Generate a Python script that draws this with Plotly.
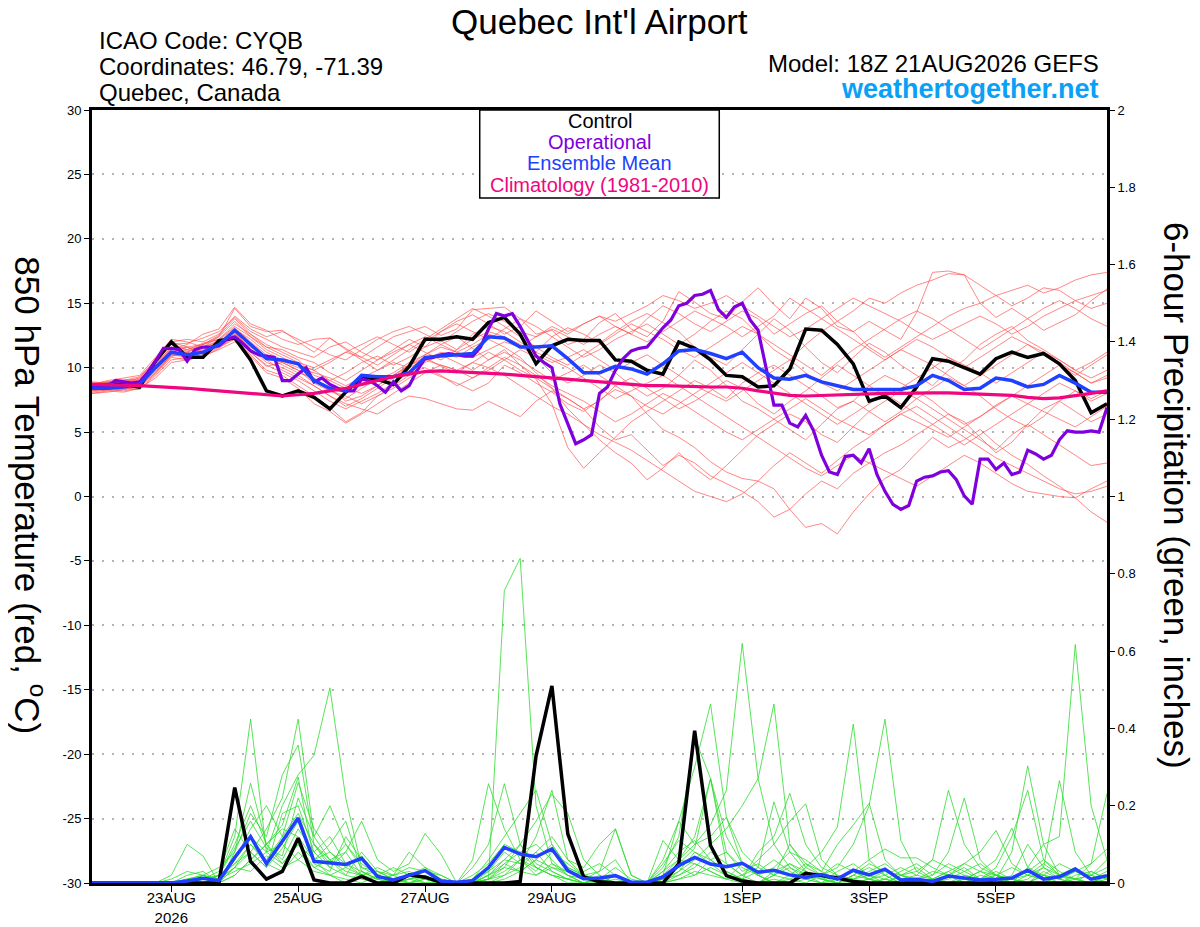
import pandas as pd
import plotly.graph_objects as go

FONT = "Liberation Sans, Arial, Helvetica, sans-serif"

# 18Z 21AUG2026 GEFS run, 6-hourly out to 16 days; operational GFS is 3-hourly
times = pd.date_range("2026-08-21 18:00", periods=65, freq="6h")
times_op = pd.date_range("2026-08-21 18:00", periods=129, freq="3h")

tick_dates = ["2026-08-23", "2026-08-25", "2026-08-27", "2026-08-29",
              "2026-09-01", "2026-09-03", "2026-09-05"]
tick_labels = ["23AUG<br>2026", "25AUG", "27AUG", "29AUG", "1SEP", "3SEP", "5SEP"]
temp_ticks = [-30, -25, -20, -15, -10, -5, 0, 5, 10, 15, 20, 25, 30]
precip_ticks = [0, 0.2, 0.4, 0.6, 0.8, 1.0, 1.2, 1.4, 1.6, 1.8, 2.0]
precip_tick_labels = ["0", "0.2", "0.4", "0.6", "0.8", "1", "1.2", "1.4", "1.6", "1.8", "2"]

# --- 850 hPa temperature (C) ---
control_temp = [
    8.6, 8.7, 8.7, 8.5, 10.5, 12.0, 10.8, 10.8, 12.1, 12.3, 10.6, 8.2, 7.8,
    8.2, 7.7, 6.8, 8.1, 9.3, 9.1, 8.7, 10.1, 12.2, 12.2, 12.4, 12.2, 13.5,
    13.9, 12.6, 10.3, 11.7, 12.2, 12.1, 12.1, 10.6, 10.5, 9.8, 9.5, 12.0, 11.5,
    10.6, 9.4, 9.3, 8.5, 8.6, 9.9, 13.0, 12.9, 11.8, 10.3, 7.4, 7.8, 6.9,
    8.5, 10.7, 10.5, 10.0, 9.5, 10.7, 11.2, 10.8, 11.1, 10.3, 9.0, 6.5, 7.2]

mean_temp = [
    8.4, 8.4, 8.5, 8.7, 10.0, 11.2, 11.0, 11.2, 11.8, 12.9, 11.8, 10.7, 10.6,
    10.3, 9.0, 8.4, 8.2, 9.4, 9.3, 9.3, 9.6, 10.8, 10.9, 11.0, 11.1, 12.4,
    12.3, 11.6, 11.6, 11.7, 10.7, 9.6, 9.6, 10.1, 9.9, 9.5, 10.3, 11.3, 11.4,
    11.1, 10.7, 11.2, 10.0, 9.2, 9.1, 9.4, 8.9, 8.6, 8.3, 8.3, 8.3, 8.3,
    8.6, 9.4, 9.0, 8.3, 8.4, 9.2, 9.0, 8.5, 8.7, 9.4, 8.8, 8.1, 8.1]

clim_temp = [
    8.7, 8.7, 8.65, 8.6, 8.55, 8.5, 8.4, 8.3, 8.2, 8.1, 8.0, 7.9, 7.8,
    7.9, 8.0, 8.2, 8.4, 8.7, 9.0, 9.3, 9.5, 9.7, 9.75, 9.7, 9.65, 9.6,
    9.5, 9.4, 9.3, 9.2, 9.1, 9.0, 8.9, 8.8, 8.7, 8.6, 8.6, 8.55, 8.5,
    8.5, 8.5, 8.4, 8.2, 8.0, 7.85, 7.8, 7.85, 7.9, 7.9, 7.95, 8.0, 8.0,
    8.05, 8.05, 8.05, 8.0, 8.0, 7.95, 7.85, 7.7, 7.6, 7.65, 7.8, 8.0, 8.2]

oper_temp = [
    8.5, 8.5, 8.6, 9.0, 8.9, 8.8, 8.9, 9.6, 10.5, 11.5, 11.5, 11.4, 10.5,
    11.4, 11.6, 11.6, 11.7, 12.2, 12.4, 11.9, 11.3, 11.0, 10.9, 10.8, 9.0, 9.0,
    9.5, 10.0, 8.9, 9.2, 8.7, 8.4, 8.2, 8.2, 9.1, 9.0, 8.6, 8.1, 8.9,
    8.2, 8.6, 9.8, 10.7, 10.8, 11.0, 11.1, 11.0, 10.9, 10.9, 11.6, 13.0, 14.2,
    14.0, 14.2, 13.2, 12.1, 10.9, 10.4, 10.0, 7.2, 5.6, 4.1, 4.4, 4.8, 8.0,
    8.5, 9.8, 10.7, 11.3, 11.5, 11.6, 12.4, 13.1, 13.7, 14.8, 15.0, 15.6, 15.7,
    16.0, 14.5, 13.9, 14.7, 15.0, 13.7, 12.9, 10.0, 7.1, 7.1, 5.7, 5.4, 6.3,
    5.1, 3.2, 1.9, 1.7, 3.1, 3.2, 2.6, 3.7, 1.7, 0.4, -0.6, -1.0, -0.7,
    1.2, 1.5, 1.6, 1.9, 2.0, 1.3, 0.05, -0.6, 2.9, 2.9, 2.1, 2.6, 1.7,
    1.9, 3.6, 3.3, 2.9, 3.2, 4.4, 5.1, 5.0, 5.0, 5.1, 5.0, 6.9]

# ensemble members (thin red) - approximate traces
temp_members = [
    [8.6, 8.8, 8.9, 9.2, 10.6, 12.0, 11.6, 11.8, 12.4, 14.6, 13.2, 12.8, 12.9,
     12.0, 11.2, 12.3, 11.5, 10.8, 11.6, 12.4, 12.8, 13.2, 12.5, 13.0, 14.5, 14.6,
     14.7, 13.8, 12.6, 12.9, 11.8, 12.2, 13.5, 14.2, 13.0, 12.4, 13.6, 15.9, 15.1,
     14.2, 13.8, 15.1, 16.2, 14.9, 13.8, 15.4, 14.6, 13.2, 12.8, 13.6, 12.9, 12.2,
     14.3, 17.4, 17.5, 17.2, 15.0, 13.9, 14.6, 13.8, 12.9, 13.5, 14.1, 15.2, 16.1],
    [8.2, 8.4, 8.3, 8.6, 9.8, 11.0, 11.2, 10.8, 11.5, 12.4, 11.0, 9.8, 9.4,
     8.6, 7.8, 6.9, 5.8, 6.5, 7.8, 8.4, 9.2, 9.8, 9.3, 8.8, 8.2, 8.8,
     10.2, 9.6, 8.8, 8.1, 7.2, 6.6, 7.5, 8.3, 7.8, 6.4, 5.2, 4.6, 3.8,
     2.7, 1.9, 1.4, 1.2, 0.6, -1.0, -2.4, -2.1, -2.9, -1.2, 0.2, 1.4, 2.1,
     3.4, 4.6, 3.8, 4.4, 5.2, 4.1, 3.2, 2.5, 1.6, 0.8, -0.1, -1.2, -2.0],
    [8.8, 8.9, 9.1, 9.0, 10.3, 11.6, 11.4, 11.9, 12.2, 13.4, 12.6, 11.8, 11.2,
     10.6, 9.4, 9.0, 9.6, 10.4, 10.9, 10.2, 10.8, 11.6, 12.1, 11.4, 12.6, 13.2,
     12.8, 12.0, 11.2, 12.4, 13.1, 12.6, 11.9, 12.8, 13.6, 14.2, 13.5, 12.8, 11.6,
     10.8, 10.2, 11.4, 12.6, 13.8, 12.9, 11.6, 10.4, 9.6, 10.8, 11.9, 11.2, 10.2,
     9.4, 8.6, 9.8, 10.6, 11.8, 12.6, 13.2, 12.1, 11.4, 10.6, 9.8, 10.4, 11.2],
    [8.0, 8.1, 8.3, 8.5, 9.6, 10.9, 11.0, 11.4, 12.0, 12.8, 11.2, 10.1, 10.4,
     9.8, 8.8, 8.2, 7.6, 8.4, 9.1, 9.6, 10.4, 11.0, 11.8, 12.4, 11.5, 10.6,
     11.4, 10.2, 9.1, 7.2, 3.8, 2.2, 3.4, 4.6, 5.8, 6.6, 7.4, 8.2, 9.0,
     8.4, 7.6, 8.8, 9.6, 10.2, 9.4, 8.6, 7.8, 6.9, 7.4, 8.6, 9.4, 8.8,
     8.2, 7.4, 6.4, 5.6, 6.2, 7.1, 7.8, 8.6, 9.4, 10.2, 9.6, 8.8, 9.4],
    [8.4, 8.6, 8.5, 8.7, 9.9, 11.4, 11.6, 11.2, 11.7, 12.6, 11.6, 10.9, 10.2,
     9.6, 9.2, 8.4, 7.4, 7.8, 8.6, 9.4, 10.2, 10.8, 10.1, 9.6, 10.4, 11.2,
     10.6, 9.8, 9.2, 8.4, 7.6, 6.8, 5.4, 4.4, 4.8, 3.6, 2.4, 3.2, 2.6,
     1.6, 1.0, 0.4, -0.4, -1.6, -1.0, 0.2, 1.2, 0.6, 1.8, 2.6, 3.4, 4.0,
     4.8, 5.6, 6.4, 5.8, 4.6, 3.4, 4.2, 5.6, 6.8, 7.4, 6.6, 5.8, 6.4],
    [8.6, 8.7, 8.8, 9.1, 10.4, 11.8, 11.9, 12.3, 12.8, 13.9, 12.8, 12.2, 11.6,
     11.2, 10.8, 11.6, 12.0, 11.2, 10.6, 11.4, 12.2, 11.6, 12.8, 13.6, 14.1, 13.4,
     12.6, 13.2, 14.4, 13.6, 12.8, 13.4, 14.0, 13.2, 12.6, 13.8, 14.8, 14.2, 13.4,
     12.8, 13.6, 14.4, 13.8, 12.6, 13.4, 14.2, 14.8, 13.6, 14.4, 15.4, 15.0, 15.8,
     16.4, 16.8, 17.3, 17.2, 16.4, 15.6, 14.8, 15.4, 16.2, 16.0, 15.2, 14.6, 15.0],
    [8.3, 8.2, 8.4, 8.3, 9.4, 10.6, 10.8, 11.2, 11.6, 12.2, 10.9, 9.6, 9.2,
     8.4, 7.2, 6.6, 5.7, 6.4, 7.2, 8.0, 8.8, 9.6, 10.2, 9.8, 9.2, 9.8,
     10.6, 11.4, 10.8, 9.6, 8.8, 9.4, 10.2, 9.6, 8.6, 7.8, 8.4, 9.4, 10.6,
     9.8, 8.6, 7.4, 6.8, 6.0, 5.2, 4.4, 5.6, 6.8, 7.4, 6.6, 5.8, 6.6,
     7.6, 8.4, 9.2, 8.6, 7.8, 6.8, 6.0, 5.4, 6.2, 7.4, 8.2, 7.6, 8.2],
    [8.7, 9.0, 9.2, 9.4, 10.8, 12.2, 12.0, 11.6, 12.4, 13.6, 12.4, 11.4, 10.8,
     10.2, 9.8, 10.4, 11.2, 11.8, 12.4, 11.8, 11.2, 12.0, 12.8, 13.4, 12.8, 12.2,
     13.0, 13.8, 13.2, 12.4, 11.6, 10.8, 11.4, 12.2, 12.8, 13.4, 12.6, 11.8, 12.6,
     13.6, 14.4, 13.8, 12.6, 11.4, 10.6, 11.8, 12.8, 13.6, 12.8, 11.6, 10.8, 11.6,
     12.4, 13.2, 14.0, 14.6, 15.0, 15.6, 16.0, 16.4, 15.8, 16.2, 16.8, 17.2, 17.4],
    [8.1, 8.3, 8.2, 8.4, 9.2, 10.4, 10.6, 10.9, 11.4, 12.0, 11.4, 10.6, 9.8,
     9.2, 8.6, 7.8, 7.2, 6.8, 6.4, 7.2, 7.8, 7.6, 7.2, 6.8, 6.7, 7.4,
     6.8, 6.2, 7.4, 8.2, 7.6, 6.8, 7.4, 8.6, 9.2, 8.4, 7.6, 6.8, 7.4,
     8.2, 9.0, 8.4, 7.2, 6.4, 7.4, 8.2, 9.2, 10.2, 9.4, 8.6, 7.8, 8.4,
     9.2, 10.0, 10.8, 10.2, 9.6, 8.8, 9.6, 10.4, 11.2, 10.6, 9.8, 9.2, 9.8],
    [8.5, 8.4, 8.6, 8.9, 10.1, 11.5, 11.3, 11.6, 12.1, 13.1, 12.0, 11.0, 10.5,
     10.0, 9.6, 9.2, 8.6, 9.2, 9.8, 10.4, 10.0, 10.6, 11.2, 10.8, 11.6, 12.2,
     11.6, 10.8, 9.6, 8.4, 6.8, 5.6, 4.4, 3.4, 2.6, 1.3, 2.2, 3.4, 2.2,
     1.3, 2.4, 3.6, 4.8, 5.6, 6.4, 5.8, 4.8, 4.2, 5.4, 6.6, 7.4, 8.2,
     7.6, 6.8, 6.0, 5.2, 4.4, 3.6, 4.8, 5.6, 4.8, 4.0, 3.2, 2.4, 2.6],
    [8.9, 8.8, 9.0, 9.3, 10.6, 12.0, 12.2, 12.0, 12.6, 14.0, 13.0, 12.4, 12.8,
     12.2, 11.6, 11.0, 10.6, 11.4, 12.2, 12.8, 13.2, 12.6, 12.0, 12.8, 13.6, 14.2,
     13.6, 12.8, 12.4, 13.2, 12.6, 13.4, 14.0, 13.6, 14.2, 14.8, 15.6, 15.2, 14.6,
     15.0, 15.6, 14.8, 14.0, 13.2, 12.4, 13.0, 13.8, 14.6, 15.4, 14.8, 14.2, 13.6,
     12.8, 12.2, 12.8, 13.4, 14.0, 13.4, 12.6, 13.2, 14.0, 14.6, 15.2, 15.6, 16.0],
    [8.4, 8.5, 8.7, 8.6, 9.6, 11.0, 10.8, 11.3, 11.9, 12.6, 11.5, 10.4, 10.0,
     9.4, 8.6, 7.8, 7.0, 7.6, 8.4, 9.2, 10.2, 11.0, 11.6, 11.2, 10.8, 11.4,
     12.0, 11.6, 11.0, 10.4, 10.8, 11.4, 10.6, 9.8, 10.4, 11.0, 10.2, 9.4, 8.6,
     8.0, 7.4, 8.2, 9.0, 9.8, 10.6, 9.6, 8.8, 8.2, 9.0, 9.8, 10.6, 11.4,
     10.8, 10.2, 9.4, 8.6, 9.4, 10.2, 11.0, 11.8, 11.2, 10.4, 9.6, 8.8, 9.2],
    [8.2, 8.4, 8.5, 8.8, 10.0, 11.2, 11.6, 11.0, 11.8, 13.0, 12.2, 11.2, 10.6,
     10.2, 9.8, 9.0, 8.4, 8.0, 8.6, 9.4, 10.2, 10.6, 10.2, 9.8, 10.4, 10.0,
     9.4, 8.6, 7.8, 7.0, 6.4, 5.6, 4.8, 4.2, 3.6, 2.8, 2.0, 1.2, 0.4,
     0.0, -0.4, 0.2, 1.2, 2.4, 3.4, 2.6, 1.8, 2.8, 3.8, 4.6, 5.6, 6.4,
     7.0, 6.2, 5.4, 4.6, 3.8, 3.0, 2.4, 1.8, 1.2, 0.6, 0.2, 0.4, 0.8],
    [8.6, 8.7, 9.0, 8.9, 10.2, 11.4, 11.8, 12.6, 13.0, 14.7, 13.4, 12.9, 12.2,
     11.8, 12.2, 12.3, 11.4, 10.6, 9.8, 10.6, 11.4, 12.2, 13.0, 13.8, 14.6, 14.0,
     13.2, 12.4, 11.6, 10.8, 10.2, 11.0, 11.8, 12.6, 13.4, 12.8, 12.2, 11.4, 10.8,
     11.6, 12.4, 13.2, 12.6, 11.8, 11.0, 10.2, 9.4, 10.4, 11.4, 12.2, 13.0, 13.8,
     14.4, 13.8, 13.0, 12.2, 11.4, 12.2, 13.0, 13.8, 14.6, 15.2, 14.6, 13.8, 13.2],
    [8.0, 8.2, 8.1, 8.4, 9.5, 10.8, 10.6, 10.9, 11.6, 12.4, 11.2, 10.2, 9.6,
     9.0, 8.2, 7.4, 6.8, 7.4, 8.0, 8.8, 9.6, 10.0, 9.4, 8.6, 9.2, 10.0,
     10.8, 10.2, 9.4, 8.6, 8.0, 7.4, 6.6, 5.8, 6.4, 7.2, 8.0, 7.4, 6.6,
     5.8, 5.0, 4.4, 5.2, 6.0, 6.8, 7.6, 6.8, 6.0, 5.4, 4.8, 5.6, 6.4,
     5.8, 5.2, 4.6, 5.4, 6.2, 7.0, 7.8, 7.2, 6.6, 6.0, 5.4, 6.2, 7.0],
    [8.5, 8.6, 8.8, 9.0, 10.2, 11.6, 11.2, 11.8, 12.2, 13.2, 12.4, 11.6, 11.0,
     10.4, 10.0, 10.6, 11.2, 10.8, 10.2, 11.0, 11.8, 12.4, 11.8, 11.2, 11.8, 12.6,
     12.2, 11.6, 12.4, 13.0, 12.4, 11.8, 12.6, 13.2, 12.6, 12.0, 12.8, 13.6, 14.4,
     13.8, 13.2, 12.4, 13.2, 14.0, 15.4, 14.6, 13.8, 13.0, 12.2, 11.4, 10.6, 11.4,
     12.2, 11.6, 10.8, 10.0, 10.8, 11.6, 12.4, 11.8, 11.0, 10.2, 9.4, 10.2, 11.0],
    [8.3, 8.3, 8.5, 8.7, 9.7, 10.9, 11.2, 11.6, 12.0, 12.7, 11.8, 10.8, 10.4,
     9.8, 9.0, 8.2, 7.8, 7.2, 7.8, 8.6, 9.4, 10.4, 11.0, 10.4, 9.8, 10.6,
     11.2, 10.6, 9.8, 9.0, 9.6, 10.2, 9.4, 8.6, 7.8, 7.0, 6.4, 7.2, 8.0,
     8.8, 9.6, 10.4, 9.6, 8.8, 8.0, 7.2, 6.4, 5.6, 6.4, 7.2, 8.0, 7.2,
     6.4, 5.6, 4.8, 4.0, 4.8, 5.6, 6.4, 7.2, 8.0, 8.8, 8.2, 7.4, 8.0],
    [8.7, 8.9, 8.8, 9.2, 10.5, 11.8, 11.4, 11.8, 12.5, 13.8, 12.6, 11.6, 11.4,
     10.8, 10.4, 9.6, 9.0, 9.8, 10.6, 11.2, 11.8, 11.2, 10.6, 11.4, 12.2, 12.8,
     12.4, 11.8, 11.2, 10.6, 10.0, 9.2, 8.4, 7.6, 8.2, 8.8, 9.4, 8.6, 7.8,
     7.0, 6.2, 5.4, 4.6, 3.8, 3.0, 2.2, 1.6, 2.4, 3.2, 2.6, 2.0, 1.4,
     0.8, 1.6, 2.4, 3.2, 2.6, 1.8, 1.0, 0.4, 0.2, 0.0, -0.1, 0.6, 1.2],
]

# --- 6-hour precipitation (inches) ---
control_precip = [
    0, 0, 0, 0, 0, 0, 0, 0, 0, 0.247, 0.056, 0.01, 0.03,
    0.116, 0.008, 0, 0, 0.017, 0, 0, 0.021, 0.015, 0.002, 0, 0, 0,
    0, 0.004, 0.329, 0.51, 0.127, 0.016, 0.003, 0, 0, 0, 0, 0.05, 0.394,
    0.097, 0.019, 0.005, 0, 0, 0, 0.025, 0.019, 0.013, 0.004, 0, 0, 0,
    0, 0, 0, 0, 0, 0, 0, 0, 0, 0, 0, 0, 0]

mean_precip = [
    0, 0, 0, 0, 0, 0, 0.005, 0.012, 0.006, 0.066, 0.12, 0.05, 0.108,
    0.168, 0.056, 0.052, 0.048, 0.064, 0.017, 0.008, 0.019, 0.032, 0.005, 0.002, 0.006, 0.04,
    0.092, 0.075, 0.068, 0.088, 0.032, 0.011, 0.013, 0.019, 0.002, 0.002, 0.016, 0.045, 0.066,
    0.049, 0.042, 0.051, 0.028, 0.033, 0.021, 0.014, 0.022, 0.01, 0.033, 0.021, 0.036, 0.008,
    0.01, 0.004, 0.018, 0.014, 0.008, 0.01, 0.013, 0.033, 0.01, 0.016, 0.036, 0.01, 0.019]

precip_members = [
    [0, 0, 0, 0, 0, 0, 0.02, 0.03, 0, 0.06, 0.12, 0.08, 0.2,
     0.28, 0.33, 0.505, 0.22, 0.04, 0.02, 0, 0.01, 0.03, 0.01, 0, 0, 0.02,
     0.06, 0.1, 0.04, 0.02, 0, 0, 0.01, 0, 0, 0, 0, 0.02, 0.05,
     0.03, 0.01, 0, 0, 0.02, 0.04, 0.01, 0, 0, 0.01, 0.02, 0, 0,
     0, 0.01, 0, 0, 0.02, 0.01, 0, 0, 0.03, 0.01, 0, 0, 0.01],
    [0, 0, 0, 0, 0, 0, 0, 0.01, 0.02, 0.12, 0.424, 0.08, 0.05,
     0.1, 0.06, 0.02, 0.01, 0, 0.02, 0.04, 0.02, 0.01, 0, 0, 0, 0.01,
     0.757, 0.84, 0.2, 0.05, 0.02, 0, 0.01, 0, 0, 0, 0, 0.01, 0.03,
     0.02, 0.01, 0.05, 0.02, 0, 0, 0.01, 0.02, 0, 0, 0, 0.01, 0,
     0, 0, 0.02, 0.01, 0, 0, 0, 0.01, 0.04, 0.02, 0, 0, 0],
    [0, 0, 0, 0, 0, 0, 0.01, 0.02, 0, 0.04, 0.08, 0.14, 0.22,
     0.424, 0.12, 0.06, 0.02, 0.08, 0.03, 0.01, 0, 0.01, 0, 0, 0, 0,
     0.02, 0.04, 0.08, 0.03, 0.01, 0, 0, 0.02, 0, 0, 0.03, 0.06, 0.1,
     0.15, 0.24, 0.62, 0.27, 0.1, 0.04, 0.02, 0, 0.01, 0.03, 0.01, 0, 0,
     0.01, 0, 0.02, 0.04, 0.01, 0, 0, 0.02, 0.05, 0.02, 0.01, 0, 0.02],
    [0, 0, 0, 0, 0, 0, 0, 0.01, 0, 0.08, 0.18, 0.12, 0.28,
     0.357, 0.1, 0.04, 0.08, 0.02, 0, 0.01, 0.02, 0, 0, 0, 0, 0.03,
     0.08, 0.05, 0.12, 0.24, 0.06, 0.02, 0, 0, 0, 0, 0.02, 0.16, 0.3,
     0.463, 0.17, 0.05, 0.02, 0, 0.01, 0.03, 0.01, 0, 0.02, 0.01, 0, 0.02,
     0.04, 0.01, 0, 0, 0.01, 0.03, 0.01, 0, 0, 0.02, 0.04, 0.01, 0],
    [0, 0, 0, 0, 0, 0.02, 0.1, 0.07, 0, 0.02, 0.06, 0.1, 0.05,
     0.1, 0.04, 0.02, 0, 0.03, 0.01, 0, 0, 0, 0, 0, 0.02, 0.05,
     0.1, 0.08, 0.04, 0.02, 0.01, 0, 0.02, 0, 0, 0, 0.04, 0.12, 0.377,
     0.27, 0.05, 0.02, 0, 0.01, 0, 0.04, 0.08, 0.145, 0.411, 0.06, 0.02, 0,
     0, 0.01, 0.03, 0, 0, 0.02, 0.01, 0, 0.02, 0.01, 0, 0.03, 0.01],
    [0, 0, 0, 0, 0, 0, 0.01, 0, 0.02, 0.1, 0.2, 0.1, 0.15,
     0.274, 0.06, 0.1, 0.16, 0.03, 0.01, 0.02, 0.04, 0.03, 0.01, 0, 0, 0.01,
     0.04, 0.03, 0.06, 0.1, 0.04, 0.02, 0.03, 0.14, 0.02, 0, 0.01, 0.03, 0.06,
     0.1, 0.14, 0.2, 0.27, 0.463, 0.1, 0.05, 0.02, 0.04, 0.1, 0.2, 0.424, 0.11,
     0.03, 0.01, 0, 0.02, 0.01, 0, 0.01, 0.03, 0.02, 0, 0.01, 0.02, 0.04],
    [0, 0, 0, 0, 0, 0.01, 0.03, 0.02, 0.04, 0.08, 0.258, 0.1, 0.06,
     0.14, 0.08, 0.12, 0.05, 0.02, 0.03, 0.01, 0, 0.02, 0, 0, 0.06, 0.257,
     0.14, 0.06, 0.02, 0.04, 0.03, 0.01, 0, 0, 0, 0, 0.05, 0.11, 0.08,
     0.05, 0.02, 0.01, 0, 0.03, 0.05, 0.02, 0.01, 0, 0.02, 0.04, 0.02, 0,
     0.01, 0, 0.02, 0.05, 0.03, 0.01, 0.08, 0.303, 0.1, 0.02, 0.01, 0, 0.02],
    [0, 0, 0, 0, 0, 0, 0, 0.02, 0.01, 0.05, 0.1, 0.06, 0.12,
     0.18, 0.1, 0.06, 0.08, 0.16, 0.06, 0.03, 0.05, 0.128, 0.075, 0, 0, 0.01,
     0.05, 0.08, 0.1, 0.06, 0.02, 0, 0.01, 0, 0, 0, 0.01, 0.04, 0.02,
     0.06, 0.08, 0.04, 0.02, 0, 0.02, 0.05, 0.03, 0.01, 0, 0.01, 0.02, 0.04,
     0.02, 0.01, 0, 0.01, 0.03, 0.02, 0, 0.04, 0.1, 0.12, 0.617, 0.2, 0.06],
    [0, 0, 0, 0, 0, 0, 0, 0, 0.01, 0.03, 0.05, 0.08, 0.1,
     0.06, 0.03, 0.02, 0.04, 0.07, 0.02, 0, 0.01, 0.02, 0, 0, 0.04, 0.1,
     0.257, 0.1, 0.05, 0.03, 0.01, 0, 0, 0, 0, 0, 0.02, 0.06, 0.05,
     0.03, 0.01, 0.02, 0.04, 0.21, 0.08, 0.03, 0.01, 0, 0.02, 0.05, 0.03, 0.01,
     0.02, 0.06, 0.24, 0.1, 0.04, 0.02, 0.01, 0.03, 0.06, 0.02, 0.01, 0.05, 0.232],
    [0, 0, 0, 0, 0, 0, 0.01, 0.02, 0, 0.06, 0.14, 0.2, 0.12,
     0.26, 0.14, 0.08, 0.05, 0.03, 0.01, 0.02, 0.03, 0.01, 0, 0, 0.01, 0.06,
     0.12, 0.18, 0.24, 0.1, 0.04, 0.02, 0.01, 0, 0, 0, 0.01, 0.02, 0.04,
     0.08, 0.05, 0.02, 0.06, 0.1, 0.16, 0.205, 0.06, 0.02, 0.01, 0, 0.01, 0.03,
     0.05, 0.02, 0.08, 0.22, 0.06, 0.02, 0.01, 0.02, 0.01, 0, 0.02, 0.03, 0.01],
    [0, 0, 0, 0, 0, 0, 0, 0.01, 0.02, 0.09, 0.16, 0.09, 0.07,
     0.22, 0.12, 0.2, 0.1, 0.05, 0.02, 0.01, 0.02, 0.03, 0.02, 0, 0, 0.02,
     0.04, 0.1, 0.16, 0.23, 0.18, 0.06, 0.02, 0, 0, 0, 0.03, 0.08, 0.11,
     0.06, 0.03, 0.01, 0, 0.02, 0.05, 0.03, 0.01, 0.02, 0, 0.01, 0.03, 0.02,
     0, 0.01, 0.03, 0.05, 0.08, 0.136, 0.05, 0.02, 0.04, 0.265, 0.08, 0.02, 0.01],
    [0, 0, 0, 0, 0, 0, 0, 0, 0.02, 0.05, 0.08, 0.04, 0.09,
     0.16, 0.05, 0.03, 0.12, 0.06, 0.02, 0, 0.01, 0, 0, 0, 0.01, 0.03,
     0.06, 0.05, 0.08, 0.12, 0.06, 0.04, 0.1, 0.14, 0.02, 0, 0.01, 0.05, 0.09,
     0.27, 0.12, 0.05, 0.02, 0.04, 0.08, 0.06, 0.03, 0.1, 0.15, 0.206, 0.06, 0.02,
     0.01, 0.02, 0.05, 0.03, 0.01, 0.04, 0.12, 0.24, 0.06, 0.03, 0.01, 0.02, 0.06],
    [0, 0, 0, 0, 0, 0, 0, 0, 0.01, 0.04, 0.1, 0.05, 0.03,
     0.08, 0.04, 0.06, 0.03, 0.02, 0.04, 0.02, 0, 0.01, 0, 0, 0, 0.01,
     0.03, 0.06, 0.04, 0.02, 0.01, 0.03, 0.05, 0.02, 0, 0, 0.06, 0.16, 0.1,
     0.12, 0.17, 0.08, 0.04, 0.02, 0.1, 0.04, 0.02, 0.01, 0.03, 0.06, 0.088, 0.065,
     0.065, 0.04, 0.02, 0.01, 0.03, 0.06, 0.142, 0.04, 0.02, 0.01, 0.03, 0.05, 0.088],
    [0, 0, 0, 0, 0, 0, 0, 0.01, 0.03, 0.14, 0.08, 0.04, 0.18,
     0.2, 0.08, 0.04, 0.02, 0.01, 0, 0.01, 0.02, 0.04, 0.02, 0, 0, 0.01,
     0.02, 0.06, 0.03, 0.08, 0.05, 0.02, 0, 0.01, 0, 0, 0.11, 0.06, 0.12,
     0.27, 0.08, 0.03, 0.05, 0.02, 0.01, 0, 0.02, 0.05, 0.03, 0.01, 0, 0.02,
     0.03, 0.06, 0.04, 0.02, 0.01, 0, 0.02, 0.1, 0.04, 0.01, 0.03, 0.02, 0],
    [0, 0, 0, 0, 0, 0, 0, 0, 0, 0.02, 0.06, 0.1, 0.14,
     0.12, 0.06, 0.08, 0.04, 0.02, 0.01, 0, 0.01, 0.02, 0, 0, 0, 0.02,
     0.05, 0.03, 0.06, 0.04, 0.02, 0.01, 0.03, 0.06, 0, 0, 0, 0.03, 0.08,
     0.06, 0.03, 0.01, 0.08, 0.12, 0.232, 0.1, 0.04, 0.02, 0.01, 0.03, 0.05, 0.02,
     0.01, 0, 0.01, 0.03, 0.05, 0.02, 0.01, 0, 0.02, 0.05, 0.03, 0.01, 0.02],
    [0, 0, 0, 0, 0, 0, 0, 0.02, 0.01, 0.04, 0.03, 0.07, 0.04,
     0.06, 0.1, 0.05, 0.1, 0.04, 0.03, 0.02, 0.08, 0.04, 0.01, 0, 0, 0,
     0.01, 0.03, 0.02, 0.05, 0.03, 0.02, 0.01, 0.04, 0.01, 0, 0, 0.01, 0.02,
     0.04, 0.02, 0.01, 0.03, 0.06, 0.03, 0.01, 0, 0.03, 0.05, 0.02, 0.01, 0,
     0.01, 0.03, 0.02, 0, 0.01, 0.02, 0.04, 0.02, 0.01, 0.02, 0.04, 0.01, 0.03],
]

RED = "#ff4f4f"
GREEN = "#2fdc2f"
BLUE = "#2040ff"
PURPLE = "#8000dd"
PINK = "#f0067f"

fig = go.Figure()

# thin ensemble members first so the summary lines sit on top
for member in temp_members:
    fig.add_trace(go.Scatter(x=times, y=member, mode="lines",
                             line=dict(color=RED, width=0.8), opacity=0.85,
                             hoverinfo="skip", showlegend=False))

fig.add_trace(go.Scatter(x=times, y=control_temp, mode="lines",
                         line=dict(color="black", width=3.5), name="Control"))
fig.add_trace(go.Scatter(x=times_op, y=oper_temp, mode="lines",
                         line=dict(color=PURPLE, width=3.2), name="Operational"))
fig.add_trace(go.Scatter(x=times, y=mean_temp, mode="lines",
                         line=dict(color=BLUE, width=3.5), name="Ensemble Mean"))
fig.add_trace(go.Scatter(x=times, y=clim_temp, mode="lines",
                         line=dict(color=PINK, width=3.2), name="Climatology"))

for member in precip_members:
    fig.add_trace(go.Scatter(x=times, y=member, mode="lines", yaxis="y2",
                             line=dict(color=GREEN, width=0.8),
                             hoverinfo="skip", showlegend=False))

fig.add_trace(go.Scatter(x=times, y=control_precip, mode="lines", yaxis="y2",
                         line=dict(color="black", width=3.5), showlegend=False))
fig.add_trace(go.Scatter(x=times, y=mean_precip, mode="lines", yaxis="y2",
                         line=dict(color=BLUE, width=3.5), showlegend=False))

# legend box drawn by hand, centred at the top of the plot
fig.add_shape(type="rect", xref="paper", yref="paper", x0=0.382, x1=0.618, y0=0.886, y1=1.0,
              line=dict(color="black", width=1.5), fillcolor="white", layer="above")
legend_rows = [("Control", "black", 0.9858), ("Operational", PURPLE, 0.9586),
               ("Ensemble Mean", BLUE, 0.9314), ("Climatology (1981-2010)", PINK, 0.903)]
for text, color, ypos in legend_rows:
    fig.add_annotation(x=0.5, y=ypos, xref="paper", yref="paper", text=text, showarrow=False,
                       font=dict(size=20, color=color), xanchor="center", yanchor="middle")

# header text
fig.add_annotation(x=0.5, y=1.1139, xref="paper", yref="paper", text="Quebec Int'l Airport",
                   showarrow=False, font=dict(size=35), xanchor="center", yanchor="middle")
for text, ypos in [("ICAO Code: CYQB", 1.0905), ("Coordinates: 46.79, -71.39", 1.0569),
                   ("Quebec, Canada", 1.022)]:
    fig.add_annotation(x=0.0046, y=ypos, xref="paper", yref="paper", text=text, showarrow=False,
                       font=dict(size=24), xanchor="left", yanchor="middle")
fig.add_annotation(x=0.9944, y=1.0608, xref="paper", yref="paper", text="Model: 18Z 21AUG2026 GEFS",
                   showarrow=False, font=dict(size=24), xanchor="right", yanchor="middle")
fig.add_annotation(x=0.9944, y=1.0272, xref="paper", yref="paper", text="<b>weathertogether.net</b>",
                   showarrow=False, font=dict(size=27, color="#0aa0f5"), xanchor="right", yanchor="middle")

# axis titles read top-to-bottom on both sides
fig.add_annotation(x=-0.0614, y=0.502, xref="paper", yref="paper",
                   text="850 hPa Temperature (red, <sup>o</sup>C)", textangle=90, showarrow=False,
                   font=dict(size=35), xanchor="center", yanchor="middle")
fig.add_annotation(x=1.068, y=0.502, xref="paper", yref="paper",
                   text="6-hour Precipitation (green, inches)", textangle=90, showarrow=False,
                   font=dict(size=35), xanchor="center", yanchor="middle")

# the page puts the figure 8px in from the top-left, so the canvas is trimmed to match
fig.update_layout(
    width=1192, height=919,
    margin=dict(l=84, r=93, t=102, b=44),
    paper_bgcolor="white", plot_bgcolor="white",
    font=dict(family=FONT, color="black"),
    showlegend=False,
    xaxis=dict(range=[times[0], times[-1]], tickvals=tick_dates, ticktext=tick_labels,
               ticks="outside", ticklen=6, tickwidth=1, tickcolor="black", ticklabelstandoff=-7,
               showgrid=False, zeroline=False, showline=True, linewidth=3,
               linecolor="black", mirror=True, tickfont=dict(size=15), automargin=False),
    yaxis=dict(range=[-30, 30], tickvals=temp_ticks, ticktext=[str(t) for t in temp_ticks],
               ticks="outside", ticklen=5, tickwidth=1, tickcolor="black",
               showgrid=True, gridcolor="#b4b4b4", gridwidth=1.5, griddash="2px,8px",
               zeroline=False, showline=True, linewidth=3, linecolor="black", mirror=True,
               tickfont=dict(size=13), automargin=False),
    yaxis2=dict(range=[0, 2], overlaying="y", side="right",
                tickvals=precip_ticks, ticktext=precip_tick_labels,
                ticks="outside", ticklen=5, tickwidth=1, tickcolor="black",
                showgrid=False, zeroline=False, showline=True, linewidth=3, linecolor="black",
                tickfont=dict(size=13), automargin=False),
)

fig.write_html("out.html")
